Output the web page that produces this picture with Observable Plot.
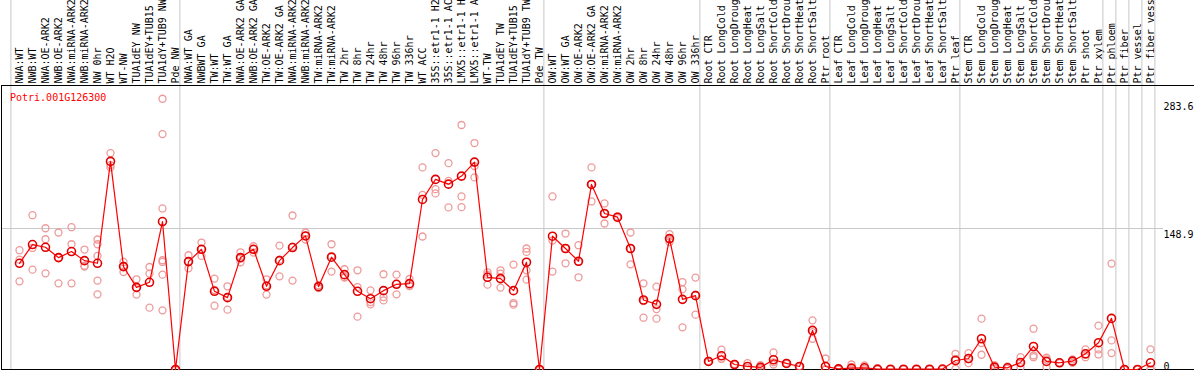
<!DOCTYPE html>
<html><head><meta charset="utf-8">
<script src="https://cdn.jsdelivr.net/npm/d3@7"></script>
<script src="https://cdn.jsdelivr.net/npm/@observablehq/plot@0.6"></script>
<style>body{margin:0;background:#fff}</style>
</head><body><div id="chart"></div>
<script>
const gene = "Potri.001G126300";
const labels = [
  "NWA:WT","NWB:WT","NWA:OE-ARK2","NWB:OE-ARK2","NWA:miRNA-ARK2","NWB:miRNA-ARK2","NW 0hr","WT H2O","WT-NW","TUA1dEY NW","TUA1dEY+TUB15 NW","TUA1dY+TUB9 NW","Pde NW",
  "NWA:WT GA","NWBWT GA","TW:WT","TW:WT GA","NWA:OE-ARK2 GA","NWB:OE-ARK2 GA","TW:OE-ARK2","TW:OE-ARK2 GA","NWA:miRNA-ARK2 GA","NWB:miRNA-ARK2 GA","TW:miRNA-ARK2","TW:miRNA-ARK2 GA","TW 2hr","TW 8hr","TW 24hr","TW 48hr","TW 96hr","TW 336hr","WT ACC","35S::etr1-1 H2O","35S::etr1-1 ACC","LMX5::etr1-1 H2O","LMX5::etr1-1 ACC","WT-TW","TUA1dEY TW","TUA1dEY+TUB15 TW","TUA1dY+TUB9 TW","Pde TW",
  "OW:WT","OW:WT GA","OW:OE-ARK2","OW:OE-ARK2 GA","OW:miRNA-ARK2","OW:miRNA-ARK2 GA","OW 2hr","OW 8hr","OW 24hr","OW 48hr","OW 96hr","OW 336hr",
  "Root CTR","Root LongCold","Root LongDrought","Root LongHeat","Root LongSalt","Root ShortCold","Root ShortDrought","Root ShortHeat","Root ShortSalt","Ptr root",
  "Leaf CTR","Leaf LongCold","Leaf LongDrought","Leaf LongHeat","Leaf LongSalt","Leaf ShortCold","Leaf ShortDrought","Leaf ShortHeat","Leaf ShortSalt","Ptr leaf",
  "Stem CTR","Stem LongCold","Stem LongDrought","Stem LongHeat","Stem LongSalt","Stem ShortCold","Stem ShortDrought","Stem ShortHeat","Stem ShortSalt","Ptr shoot","Ptr xylem",
  "Ptr phloem","Ptr fiber","Ptr vessel","Ptr fiber vessel"
];
const means = [
  112.2,132,129.1,118.2,124.6,115,112.2,219.8,108.7,86.8,92.1,156.3,0,
  114,127,82.6,75.9,118.2,127,87.9,115,128.8,141.1,87.5,118.6,100.2,82.6,74.8,83.3,90,90.7,179.6,200.8,195.8,204.3,219.1,97.4,96,83.3,113.3,0,
  140.8,127.8,114.3,195.5,164.8,160.9,127.8,73.4,68.8,138.3,74.1,78,
  8.5,14.5,5.3,3.2,2.2,10.3,6.4,3.2,41.3,3.2,
  0.7,1.4,1.8,0.4,0.3,0.3,0.3,0.3,0.5,9.5,
  11.6,32.5,2.5,1.8,7.4,24.3,8.5,7.1,8.8,16.6,28.3,
  54,0,0,7.1
];
const replicates = [
  [126,116,93.1],[163,128.4,105.5],[149.2,137.6,101.6],[144.7,118,91],[150.3,132.3,91],[126.7,108.7,109.6],[137.3,132.3,120,93.9,79.4],[228.6,215.9,213.5],[113.6,109.5,103],[95.3,86,79.1],[108.3,101.3,65.3],[286,248.7,170.1,115.4,113.6,100.2,62.5],[0,0,0],
  [120.7,114.4,106.9],[134.1,127,120],[96,84,67.4],[87.9,76.6,63.2],[123.8,117.5,113.3],[130.2,127.3,123.5],[95.3,89,79.1],[130.9,116,98.4],[162.7,129.8,93.9],[144.7,141.3,137.3],[89,87.5,86],[132.3,120,103.4],[105.9,97.7,97],[104.8,87.1,55.8],[83.6,71.2,68.8],[100.6,76.5,73],[100.2,90.4,79.4],[95.6,88.3,88.2],[213.5,184.5,140.5],[228.6,190.5,186],[218,199.3,171.2],[258.3,182.8,171.5],[239.2,214.9,202.9],[102.7,100,89.6],[104.8,101.3,86.5],[110.8,70.2,68.5],[127.8,124.2,104.8,94.9],[0,0,0],
  [182.8,136.2,103.4],[143.6,127.6,112.2],[131.3,114,97.4],[213.5,195.5,177.5],[175.4,164.8,154.2],[161.7,161,160],[144.7,127.6,111.1],[91,72.3,54.7],[87.5,63.8,53.7],[142.9,137.3,134.7],[92.4,84.7,44.5],[97.1,79,57.9],
  [9,8.5,8],[20.9,11.3,11.3],[5.8,5.2,4.9],[6.7,1.5,1.4],[4.5,1.2,0.9],[18,7.6,5.3],[7,6.2,6],[3.5,3,3],[51.9,39.5,32.5],[11.6,0,0],
  [1.5,0.5,0],[5.3,0,0],[4.2,1,0.2],[0.5,0.4,0.3],[0.4,0.3,0.2],[0.4,0.3,0.2],[0.4,0.3,0.2],[0.4,0.3,0.2],[0.7,0.5,0.3],[16.6,11.2,0.7],
  [17.3,10.9,6.7],[53.7,28,15.6],[4.6,1.5,1.4],[3.2,1.2,1],[13,6.7,2.5],[43.1,14.8,13],[12.4,10.6,2.5],[7.5,7,6.8],[10.6,8.7,7.1],[21.2,15.6,13],[46.3,21.2,15.9],
  [111.9,30.7,17.3],[0,0,0],[0,0,0],[21.3,0,0]
];
const groupStarts = [0,13,41,53,63,73,84,85,86,87];
const gridValues = [148.9];
const yTickLabels = [283.6, 148.9];
const yZeroLabel = [0];

const meanData = means.map((v, i) => ({i, v}));
const repData = replicates.flatMap((arr, i) => arr.map(v => ({i, v})));
const idx = d3.range(labels.length);

const chart = Plot.plot({
  width: 1194,
  height: 370,
  marginTop: 85,
  marginBottom: 1,
  marginLeft: 1,
  marginRight: 0,
  style: {fontFamily: "'DejaVu Sans Mono', monospace", fontSize: "10px", background: "white"},
  x: {type: "point", domain: idx, range: [19.3, 1150.3], padding: 0, axis: "top",
      tickFormat: i => labels[i], tickRotate: -90, tickSize: 0, tickPadding: 2, label: null},
  y: {domain: [0, 300], axis: null},
  marks: [
    Plot.ruleY(gridValues, {stroke: "#c8c8c8", insetRight: 31}),
    Plot.ruleX(groupStarts, {x: d => d, dx: -8.6, stroke: "#c8c8c8", insetTop: -85}),
    Plot.ruleX([labels.length - 1], {x: d => d, dx: 4.4, stroke: "#c8c8c8", insetTop: -85}),
    Plot.frame({stroke: "black", insetRight: -3}),
    Plot.dot(repData, {x: "i", y: "v", r: 3.5, stroke: "#ee9a9a", strokeWidth: 1.3, fill: "none"}),
    Plot.line(meanData, {x: "i", y: "v", stroke: "#ff0000", strokeWidth: 1.2}),
    Plot.dot(meanData, {x: "i", y: "v", r: 4, stroke: "#e00000", strokeWidth: 1.6, fill: "none"}),
    Plot.text([gene], {frameAnchor: "top-left", dx: 8.5, dy: 12, lineAnchor: "middle", textAnchor: "start", fill: "#ff0000", text: d => d}),
    Plot.text(yTickLabels, {y: d => d, text: d => String(d), frameAnchor: "right", textAnchor: "start", dx: -31, lineAnchor: "top", dy: 2, fill: "black"}),
    Plot.text(yZeroLabel, {y: d => d, text: d => String(d), frameAnchor: "right", textAnchor: "start", dx: -31, lineAnchor: "bottom", dy: 0, fill: "black"})
  ]
});
document.getElementById("chart").appendChild(chart);
</script>
</body></html>
